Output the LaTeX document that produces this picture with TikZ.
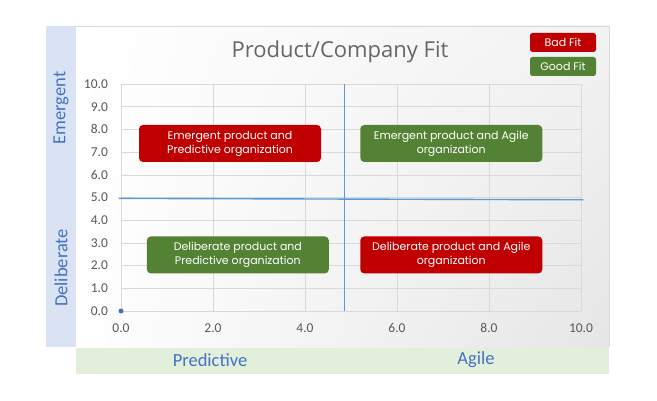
\documentclass[tikz,border=0pt]{standalone}
\usepackage{fontspec}
\usetikzlibrary{shadings}
\setmainfont{Carlito}
\newfontfamily\boxfont{Poppins}
\newfontfamily\titlefont{Open Sans}

\definecolor{badred}{HTML}{C00000}
\definecolor{goodgreen}{HTML}{548235}
\definecolor{axisblue}{HTML}{4472C4}
\definecolor{lineblue}{HTML}{5B9BD5}
\definecolor{bandblue}{HTML}{DAE3F3}
\definecolor{bandgreen}{HTML}{E2EFDA}
\definecolor{gridgrey}{HTML}{D9D9D9}
\definecolor{ticktext}{HTML}{595959}

\tikzset{
  fitbox/.style={rounded corners=4pt, text=white, align=center, inner sep=0pt,
    font=\boxfont\fontsize{11}{14}\selectfont, minimum width=182pt, minimum height=37pt},
  legendbox/.style={rounded corners=2.5pt, text=white, inner sep=0pt,
    font=\boxfont\fontsize{11}{12}\selectfont, minimum width=66pt, minimum height=19pt},
  bandlabel/.style={text=axisblue, font=\fontsize{18.5}{20}\selectfont},
  ticklabel/.style={text=ticktext, font=\fontsize{13.5}{14}\selectfont, inner sep=0pt}
}

\begin{document}
\begin{tikzpicture}[x=1pt, y=-1pt]
    \useasboundingbox (0,0) rectangle (657,401);

    % Baender fuer die Achsenbeschriftung
    \fill[bandblue] (46,26) rectangle (76,347);
    \fill[bandgreen] (76,347) rectangle (609,374);

    % Diagrammflaeche
    \shade[upper left=white, upper right=black!5, lower left=white, lower right=black!10] (76,26) rectangle (609,347);
    \draw[gridgrey] (76,26) -- (609,26) -- (609,347);

    \node[text=black!60, font=\titlefont\fontsize{22}{24}\selectfont] (title) at (340,52) {Product/Company Fit};

    % Legende
    \node[legendbox, fill=badred] (bad) at (563,42.5) {Bad Fit};
    \node[legendbox, fill=goodgreen] (good) at (563,66.5) {Good Fit};

    \begin{scope}[shift={(121,311)}, x=46pt, y=22.7pt]
        % Gitter
        \foreach \y in {0,...,10} \draw[gridgrey] (0,\y) -- (10,\y);
        \foreach \x in {0,2,...,10} \draw[gridgrey] (\x,0) -- (\x,10);

        % Achsenwerte
        \foreach \y in {0,...,10} \node[ticklabel, anchor=east] (ty\y) at (-0.28,\y) {\y.0};
        \foreach \x in {0,2,...,10} \node[ticklabel] (tx\x) at (\x,-0.75) {\x.0};

        % Quadranten-Linien
        \draw[lineblue, line width=1.4pt] (4.86,0) -- (4.86,10);
        \draw[lineblue, line width=1.4pt] (-0.05,4.96) -- (10.05,4.9);
        \fill[axisblue] (0,0) circle (2.5pt);

        % Quadranten
        \node[fitbox, fill=badred] (emergpred) at (2.37,7.38) {Emergent product and\\Predictive organization};
        \node[fitbox, fill=goodgreen] (emergagile) at (7.18,7.38) {Emergent product and Agile\\organization};
        \node[fitbox, fill=goodgreen] (delibpred) at (2.54,2.47) {Deliberate product and\\Predictive organization};
        \node[fitbox, fill=badred] (delibagile) at (7.18,2.47) {Deliberate product and Agile\\organization};
    \end{scope}

    % Achsenbeschriftung
    \node[bandlabel, rotate=90] (emergent) at (61,108) {Emergent};
    \node[bandlabel, rotate=90] (deliberate) at (61,268) {Deliberate};
    \node[bandlabel] (predictive) at (210,360) {Predictive};
    \node[bandlabel] (agile) at (476,360) {Agile};
\end{tikzpicture}
\end{document}
